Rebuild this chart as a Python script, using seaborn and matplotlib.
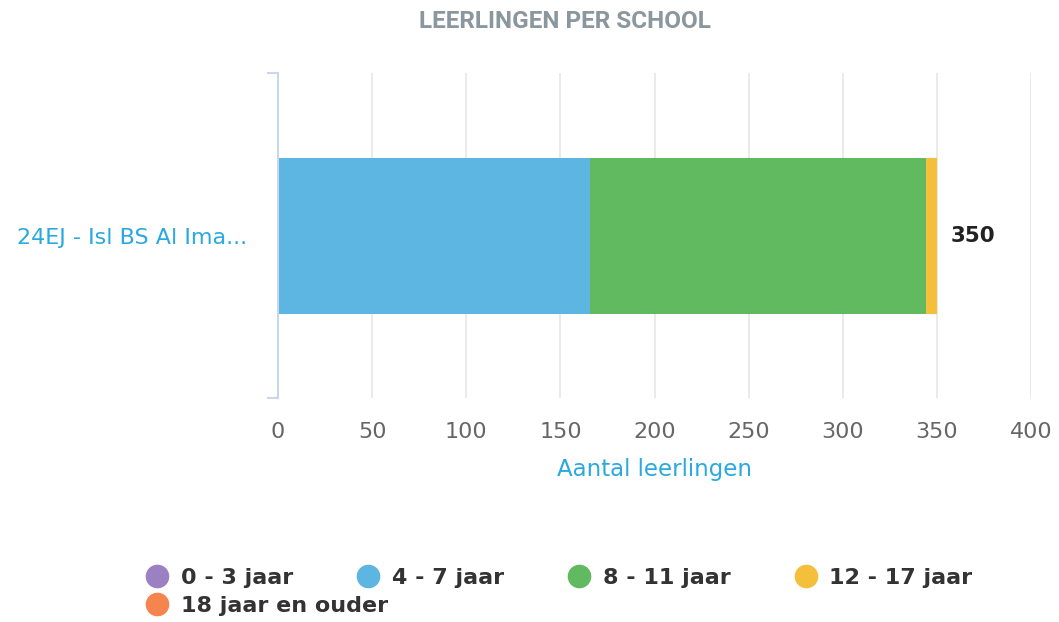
import numpy as np
import seaborn as sns
from matplotlib import pyplot as plt
from matplotlib.lines import Line2D

schools = ["24EJ - Isl BS Al Ima..."]
age_groups = ["0 - 3 jaar", "4 - 7 jaar", "8 - 11 jaar", "12 - 17 jaar", "18 jaar en ouder"]
counts = [0, 166, 178, 6, 0]
colors = ["#9b80c2", "#5db5e2", "#62ba60", "#f4bf3a", "#f5844e"]
xticks = [0, 50, 100, 150, 200, 250, 300, 350, 400]

sns.set_theme(style="white")
plt.rcParams['font.family'] = ['DejaVu Sans']

W, H = 1059, 622
fig = plt.figure(figsize=(W / 100, H / 100), dpi=100)
ax = fig.add_axes([278 / W, 1 - 398 / H, (1031 - 278) / W, (398 - 73) / H])

# stacked bars: draw cumulative totals from the outside in
cum = np.cumsum(counts)
for i in reversed(range(len(counts))):
    sns.barplot(x=[cum[i]], y=schools, orient="h", color=colors[i],
                saturation=1, width=0.48, linewidth=0, ax=ax)

ax.bar_label(ax.containers[0], fmt="%d", padding=10, fontsize=15.5,
             fontweight="bold", color="#222222")

ax.set_xlim(0, 400)
ax.set_xticks(xticks)
ax.xaxis.grid(True, color="#e6e6e6", lw=1.2)
ax.set_axisbelow(True)
for s in ["top", "right", "bottom"]:
    ax.spines[s].set_visible(False)
ax.spines["left"].set_color("#ccd6eb")
ax.spines["left"].set_linewidth(1.5)

ax.tick_params(axis="x", length=0, colors="#666666", labelsize=16, pad=17)
ax.tick_params(axis="y", which="major", length=0, pad=22,
               labelcolor="#2aa9e0", labelsize=16)
ax.set_yticks([-0.5, 0.5], minor=True)
ax.tick_params(axis="y", which="minor", length=8, width=1.5, color="#ccd6eb", left=True)
ax.set_ylabel("")
ax.set_xlabel("Aantal leerlingen", color="#2aa9e0", fontsize=16.5, labelpad=12)

fig.text(564.5 / W, 1 - 22 / H, "LEERLINGEN PER SCHOOL", ha="center", va="center",
         color="#8a979e", fontsize=17.5, fontweight="bold", family="Roboto")

handles = [Line2D([], [], marker="o", ls="none", color=c, markersize=16) for c in colors]
leg_kw = dict(loc="center left", frameon=False, handlelength=1.0, handletextpad=0.55,
              prop={"size": 16, "weight": "bold"}, labelcolor="#333333", borderpad=0)
fig.legend(handles[:4], age_groups[:4], ncol=4, columnspacing=2.9,
           bbox_to_anchor=(135 / W, 1 - 578 / H), **leg_kw)
fig.legend(handles[4:], age_groups[4:], ncol=1,
           bbox_to_anchor=(135 / W, 1 - 606 / H), **leg_kw)

fig.savefig("out.png", dpi=100)
